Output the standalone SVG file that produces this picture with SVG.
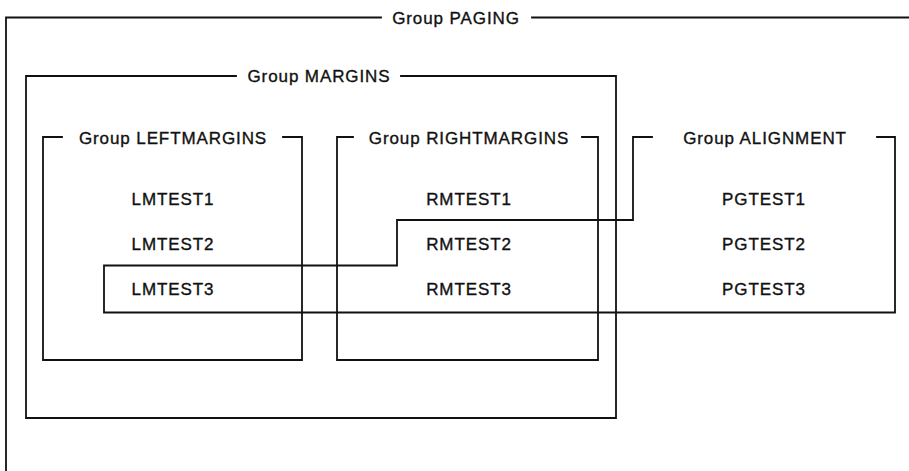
<svg xmlns="http://www.w3.org/2000/svg" width="909" height="471" viewBox="0 0 909 471">
  <style>
    .frame { fill: none; stroke: #111; stroke-width: 1.8; stroke-linejoin: miter; stroke-linecap: square; }
    text { font-family: "Liberation Sans", Arial, Helvetica, sans-serif; font-size: 17px; fill: #111; stroke: #111; stroke-width: 0.35; text-anchor: middle; letter-spacing: 0.9px; }
  </style>
  <rect width="909" height="471" fill="#fff"/>

  <!-- Outer group: open at right and bottom -->
  <g id="group-paging">
    <path class="frame" d="M381,17.5 H6 V471 M532,17.5 H909"/>
    <text x="456" y="23.5">Group PAGING</text>
  </g>

  <g id="group-margins">
    <path class="frame" d="M236,76 H26 V418 H616 V76 H401"/>
    <text x="319" y="82">Group MARGINS</text>
  </g>

  <g id="group-leftmargins">
    <path class="frame" d="M62,137 H43 V360 H302 V137 H283"/>
    <text x="173" y="143.5">Group LEFTMARGINS</text>
    <text x="173" y="205">LMTEST1</text>
    <text x="173" y="250">LMTEST2</text>
    <text x="173" y="295">LMTEST3</text>
  </g>

  <g id="group-rightmargins">
    <path class="frame" d="M353,137 H337 V360 H598 V137 H582"/>
    <text x="469" y="143.5">Group RIGHTMARGINS</text>
    <text x="469" y="205">RMTEST1</text>
    <text x="469" y="250">RMTEST2</text>
    <text x="469" y="295">RMTEST3</text>
  </g>

  <!-- ALIGNMENT reaches back to take in RMTEST2/3 and LMTEST3 -->
  <g id="group-alignment">
    <path class="frame" d="M652,137 H633 V220 H397 V265.5 H104 V312.5 H895 V137 H877"/>
    <text x="765" y="143.5">Group ALIGNMENT</text>
    <text x="764" y="205">PGTEST1</text>
    <text x="764" y="250">PGTEST2</text>
    <text x="764" y="295">PGTEST3</text>
  </g>
</svg>
